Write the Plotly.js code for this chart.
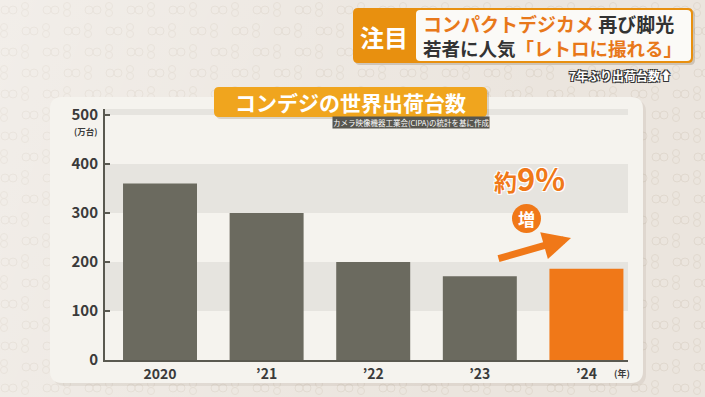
<!DOCTYPE html>
<html>
<head>
<meta charset="utf-8">
<script src="https://cdn.plot.ly/plotly-3.0.1.min.js"></script>
<style>
html,body{margin:0;padding:0;}
body{width:705px;height:397px;overflow:hidden;
background-color:#ebe5de;
background-image:
 linear-gradient(110deg, rgba(255,255,255,0.35) 0%, rgba(255,255,255,0.1) 45%, rgba(0,0,0,0) 70%),
 url("data:image/svg+xml;utf8,<svg xmlns='http://www.w3.org/2000/svg' width='42' height='42'><g fill='none' stroke='%23e0d8ce' stroke-width='1'><circle cx='5' cy='10' r='4'/><circle cx='13' cy='10' r='4'/><circle cx='25' cy='6' r='3.5'/><circle cx='25' cy='13' r='3.5'/><circle cx='26' cy='31' r='4'/><circle cx='34' cy='31' r='4'/><circle cx='4' cy='27' r='3.5'/><circle cx='4' cy='34' r='3.5'/></g></svg>");
}
#chart{width:705px;height:397px;}
</style>
</head>
<body>
<div id="chart"></div>
<script>
// ---- data ----
const categories = ['2020', '’21', '’22', '’23', '’24'];
const shipments = [360, 300, 200, 171, 186];   // 万台
const yTicks = [0, 100, 200, 300, 400, 500];
const barColors = ['#6b6a5f', '#6b6a5f', '#6b6a5f', '#6b6a5f', '#f07818'];

// ---- layout helpers (pixel -> paper) ----
const L = 105, R = 628, T = 109, B = 360;
const W = R - L, H = B - T;
const px = x => (x - L) / W;
const py = y => (B - y) / H;
function rrect(x0, y0, x1, y1, r) {
  const p = (x, y) => px(x).toFixed(5) + ',' + py(y).toFixed(5);
  return 'M' + p(x0 + r, y0) + ' L' + p(x1 - r, y0) + ' Q' + p(x1, y0) + ' ' + p(x1, y0 + r) +
    ' L' + p(x1, y1 - r) + ' Q' + p(x1, y1) + ' ' + p(x1 - r, y1) +
    ' L' + p(x0 + r, y1) + ' Q' + p(x0, y1) + ' ' + p(x0, y1 - r) +
    ' L' + p(x0, y0 + r) + ' Q' + p(x0, y0) + ' ' + p(x0 + r, y0) + ' Z';
}
const FONT = '"Noto Sans CJK JP", "Noto Sans", sans-serif';

const trace = {
  type: 'bar',
  x: categories,
  y: shipments,
  marker: {color: barColors, line: {width: 0}},
  hoverinfo: 'skip'
};

const shapes = [
  {type: 'path', xref: 'paper', yref: 'paper', path: rrect(53, 100, 646, 386, 12), fillcolor: 'rgba(120,100,80,0.10)', line: {width: 0}, layer: 'below'},
  {type: 'path', xref: 'paper', yref: 'paper', path: rrect(50, 97, 643, 383, 12), fillcolor: '#f5f3ee', line: {width: 0}, layer: 'below'},
  {type: 'rect', xref: 'paper', yref: 'y', x0: 0, x1: 1, y0: 100, y1: 200, fillcolor: '#e6e4df', line: {width: 0}, layer: 'below'},
  {type: 'rect', xref: 'paper', yref: 'y', x0: 0, x1: 1, y0: 300, y1: 400, fillcolor: '#e6e4df', line: {width: 0}, layer: 'below'},
  {type: 'rect', xref: 'paper', yref: 'y', x0: 0, x1: 1, y0: 500, y1: 512, fillcolor: '#e6e4df', line: {width: 0}, layer: 'below'},
  // title box
  {type: 'path', xref: 'paper', yref: 'paper', path: rrect(216, 89, 489, 119, 5), fillcolor: 'rgba(90,60,20,0.18)', line: {width: 0}, layer: 'above'},
  {type: 'path', xref: 'paper', yref: 'paper', path: rrect(214, 87, 487, 117, 5), fillcolor: '#f0a51e', line: {width: 0}, layer: 'above'},
  // header
  {type: 'path', xref: 'paper', yref: 'paper', path: rrect(355, 10, 695, 65, 5), fillcolor: 'rgba(90,60,20,0.2)', line: {width: 0}, layer: 'above'},
  {type: 'path', xref: 'paper', yref: 'paper', path: rrect(353, 8, 693, 63, 5), fillcolor: '#e8900f', line: {width: 0}, layer: 'above'},
  {type: 'path', xref: 'paper', yref: 'paper', path: rrect(416, 10, 691, 61, 4), fillcolor: '#fbfaf7', line: {width: 0}, layer: 'above'},
  // 増 circle
  {type: 'circle', xref: 'paper', yref: 'paper', x0: px(512), x1: px(541), y0: py(233), y1: py(204), fillcolor: '#f07818', line: {width: 0}, layer: 'above'}
];

const ann = (o) => Object.assign({xref: 'paper', yref: 'paper', showarrow: false}, o);
const annotations = [
  ann({x: px(350), y: py(102), text: '<b>コンデジの世界出荷台数</b>', font: {family: FONT, size: 21, color: '#ffffff'}, xanchor: 'center', yanchor: 'middle'}),
  ann({x: px(490), y: py(123), text: 'カメラ映像機器工業会(CIPA)の統計を基に作成', font: {family: FONT, size: 7.5, color: '#ffffff'}, bgcolor: '#57564f', borderpad: 0, xanchor: 'right', yanchor: 'middle'}),
  ann({x: px(99), y: py(131), text: '<b>(万台)</b>', font: {family: FONT, size: 8.5, color: '#3c3c3c'}, xanchor: 'right', yanchor: 'middle'}),
  ann({x: px(622), y: py(373), text: '<b>(年)</b>', font: {family: FONT, size: 9, color: '#3c3c3c'}, xanchor: 'center', yanchor: 'middle'}),
  ann({x: px(384), y: py(36), text: '<b>注目</b>', font: {family: FONT, size: 24, color: '#ffffff'}, xanchor: 'center', yanchor: 'middle'}),
  ann({x: px(421), y: py(23), text: '<b><span style="color:#e8781a">コンパクトデジカメ</span> 再び脚光</b>', font: {family: FONT, size: 19, color: '#333333'}, xanchor: 'left', yanchor: 'middle'}),
  ann({x: px(421), y: py(48), text: '<b>若者に人気<span style="color:#e8781a">「レトロに撮れる」</span></b>', font: {family: FONT, size: 18.5, color: '#333333'}, xanchor: 'left', yanchor: 'middle'}),
  ann({x: px(674), y: py(76), text: '<b>7年ぶり出荷台数⬆</b>', font: {family: FONT, size: 12, color: '#ffffff', shadow: '1px 1px 0 #333, -1px -1px 0 #333, 1px -1px 0 #333, -1px 1px 0 #333'}, xanchor: 'right', yanchor: 'middle'}),
  ann({x: px(529), y: py(177), text: '<b><span style="font-size:23px">約</span>9%</b>', font: {family: FONT, size: 31, color: '#f07818', shadow: '1px 1px 0 #fff, -1px -1px 0 #fff, 1px -1px 0 #fff, -1px 1px 0 #fff'}, xanchor: 'center', yanchor: 'middle'}),
  ann({x: px(526.5), y: py(218.5), text: '<b>増</b>', font: {family: FONT, size: 17, color: '#ffffff'}, xanchor: 'center', yanchor: 'middle'}),
  {xref: 'paper', yref: 'paper', x: px(571), y: py(238), ax: -74, ay: 21, axref: 'pixel', ayref: 'pixel', text: '', showarrow: true, arrowhead: 2, arrowsize: 0.8, arrowwidth: 7, arrowcolor: '#f07818', standoff: 0, startstandoff: 0}
];

const layout = {
  width: 705, height: 397,
  margin: {l: L, r: 705 - R, t: T, b: 397 - B, pad: 0},
  paper_bgcolor: 'rgba(0,0,0,0)',
  plot_bgcolor: 'rgba(0,0,0,0)',
  showlegend: false,
  bargap: 0.306,
  font: {family: FONT},
  xaxis: {
    type: 'category', range: [-0.516, 4.39], showline: true, linecolor: '#5a5950', linewidth: 2,
    ticks: '', showgrid: false, zeroline: false,
    tickfont: {family: FONT, size: 14, color: '#3a3a3a', weight: 'bold'}, ticklabelstandoff: 0
  },
  yaxis: {
    range: [0, 512], tickvals: yTicks, ticktext: yTicks.map(String), showline: true, linecolor: '#5a5950', linewidth: 2,
    ticks: 'inside', ticklen: 5, tickwidth: 2, tickcolor: '#5a5950', showgrid: false, zeroline: false,
    tickfont: {family: FONT, size: 15, color: '#3a3a3a', weight: 'bold'}, ticklabelstandoff: 2
  },
  shapes: shapes,
  annotations: annotations
};

Plotly.newPlot('chart', [trace], layout, {displayModeBar: false, staticPlot: true});
</script>
</body>
</html>
